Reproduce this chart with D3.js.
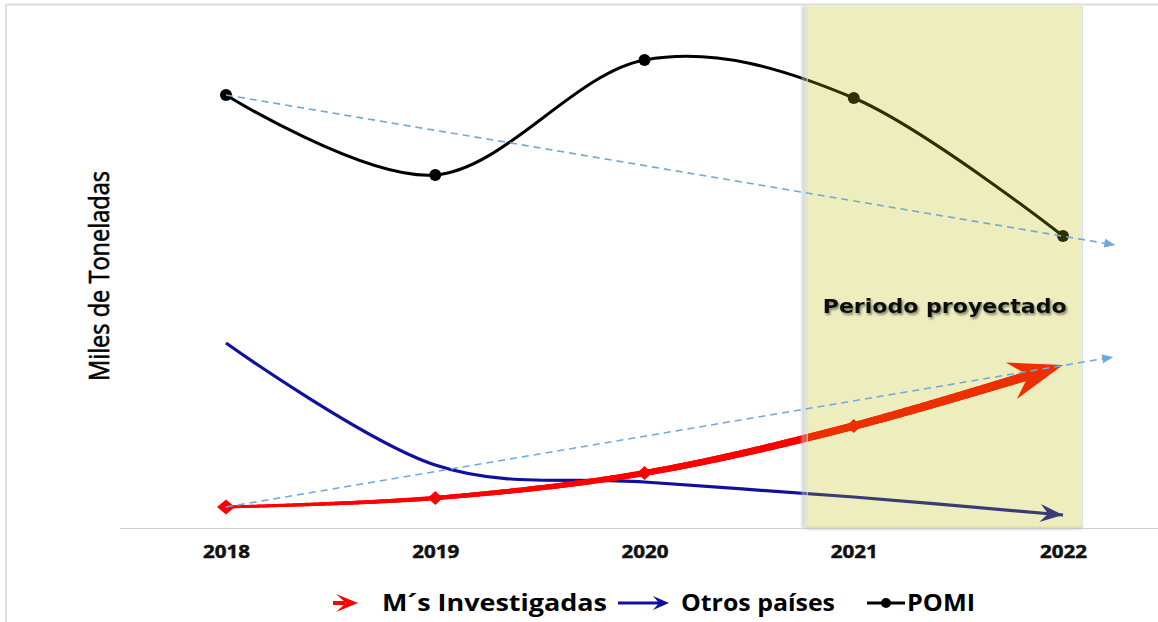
<!DOCTYPE html>
<html><head><meta charset="utf-8">
<script src="https://cdn.jsdelivr.net/npm/d3@7"></script>
<style>body{margin:0;background:#fff}svg{display:block}</style>
</head><body><svg id="c" width="1158" height="622"></svg>
<script>
// ---- data ----
const years = [2018, 2019, 2020, 2021, 2022];
const tickLabels = ["2018", "2019", "2020", "2021", "2022"];
const mInvestigadas = [4.2, 6.0, 11.0, 20.4, 32.6];
const otrosPaises = [37.0, 12.6, 9.2, 6.2, 2.6];
const pomi = [86.6, 70.6, 93.6, 86.0, 58.4];
const trendPomiYears = [2018, 2022.25];
const trendPomiValues = [86.6, 56.6];
const trendMsYears = [2018, 2022.24];
const trendMsValues = [4.2, 34.2];
const projectedPeriod = [2020.77, 2022.09];
const seriesNames = ["M´s Investigadas", "Otros países", "POMI"];
const yLabel = "Miles de Toneladas";
const shadeLabel = "Periodo proyectado";

// ---- setup ----
const svg = d3.select("#c");
const x = d3.scaleLinear().domain([2018, 2022]).range([226, 1063]);
const y = d3.scaleLinear().domain([0, 100]).range([528, 28]);
const curve = d3.curveCardinal.tension(0);
const line = d3.line().x(d => x(d[0])).y(d => y(d[1])).curve(curve);
const zip = (a, b) => a.map((v, i) => [v, b[i]]);

const defs = svg.append("defs");
const f = defs.append("filter").attr("id", "ts").attr("x", "-10%").attr("y", "-40%").attr("width", "120%").attr("height", "180%");
f.append("feDropShadow").attr("dx", 1.5).attr("dy", 2).attr("stdDeviation", 1.3).attr("flood-color", "#000").attr("flood-opacity", 0.45);
const bl = defs.append("filter").attr("id", "bl").attr("x", "-200%").attr("width", "500%");
bl.append("feGaussianBlur").attr("stdDeviation", 1.2);

// frame
svg.append("line").attr("x1", 6).attr("x2", 1158).attr("y1", 4.5).attr("y2", 4.5).attr("stroke", "#dcdcdc").attr("stroke-width", 2);
svg.append("line").attr("x1", 6).attr("x2", 6).attr("y1", 4).attr("y2", 622).attr("stroke", "#e0e0e0").attr("stroke-width", 2);

// axis
const axis = d3.axisBottom(x).tickValues(years).tickFormat((d, i) => tickLabels[i]).tickSize(0).tickPadding(17);
const ag = svg.append("g").attr("transform", `translate(0,${y(0)})`).call(axis);
ag.select(".domain").remove();
ag.selectAll("text").attr("font-family", "'Open Sans', sans-serif").attr("font-weight", 700).attr("font-size", 18)
  .attr("fill", "#111").attr("stroke", "#111").attr("stroke-width", 0.5)
  .attr("textLength", 47).attr("lengthAdjust", "spacingAndGlyphs");
svg.append("line").attr("x1", 120).attr("x2", 1158).attr("y1", y(0) + 0.5).attr("y2", y(0) + 0.5).attr("stroke", "#d0d0d0").attr("stroke-width", 1.2);

// y label
svg.append("text").attr("transform", "translate(109,276) rotate(-90)").attr("text-anchor", "middle")
  .attr("font-family", "'Liberation Sans Narrow', 'Open Sans', sans-serif").attr("font-size", 27).attr("fill", "#000")
  .attr("stroke", "#000").attr("stroke-width", 0.6)
  .attr("textLength", 210).attr("lengthAdjust", "spacingAndGlyphs").text(yLabel);

function arrowHead(g, tip, ang, len, half, notch, fill) {
  const p = d3.path();
  p.moveTo(0, 0); p.lineTo(-len, -half); p.lineTo(-notch, 0); p.lineTo(-len, half); p.closePath();
  g.append("path").attr("d", p.toString()).attr("fill", fill)
    .attr("transform", `translate(${tip[0]},${tip[1]}) rotate(${ang * 180 / Math.PI})`);
}

// POMI
const pomiPts = zip(years, pomi);
svg.append("path").attr("d", line(pomiPts)).attr("fill", "none").attr("stroke", "#000").attr("stroke-width", 3);
svg.selectAll(".pm").data(pomiPts).join("circle").attr("cx", d => x(d[0])).attr("cy", d => y(d[1])).attr("r", 6).attr("fill", "#000");

// Otros paises
const otPts = zip(years, otrosPaises);
const otPath = svg.append("path").attr("d", line(otPts)).attr("fill", "none").attr("stroke", "#10109c").attr("stroke-width", 3.2);
{
  const n = otPath.node(), L = n.getTotalLength();
  const a = n.getPointAtLength(L - 14), b = n.getPointAtLength(L);
  arrowHead(svg, [b.x, b.y], Math.atan2(b.y - a.y, b.x - a.x), 23, 9, 15, "#10109c");
}

// M's investigadas (tapered red line)
const msPts = zip(years, mInvestigadas);
const hidden = svg.append("path").attr("d", line(msPts)).attr("fill", "none").attr("stroke", "none");
{
  const n = hidden.node(), L = n.getTotalLength();
  const stop = L - 30;
  const gRed = svg.append("g");
  let prev = n.getPointAtLength(0);
  for (let s = 2; s <= stop; s += 2) {
    const p = n.getPointAtLength(s);
    gRed.append("line").attr("x1", prev.x).attr("y1", prev.y).attr("x2", p.x).attr("y2", p.y)
      .attr("stroke", "#ff0000").attr("stroke-width", 2.8 + 6.5 * s / L).attr("stroke-linecap", "round");
    prev = p;
  }
  const a = n.getPointAtLength(L - 45), b = n.getPointAtLength(L);
  arrowHead(svg, [b.x, b.y], Math.atan2(b.y - a.y, b.x - a.x), 54, 19, 36, "#ff0000");
}
const dia = (w, h) => `M0,${-h / 2}L${w / 2},0L0,${h / 2}L${-w / 2},0Z`;
svg.selectAll(".md").data(msPts.slice(0, 4)).join("path").attr("d", (d, i) => i === 0 ? dia(18, 15) : dia(15, 14))
  .attr("transform", d => `translate(${x(d[0])},${y(d[1])})`).attr("fill", "#ff0000");

// projected period overlay
const sx0 = x(projectedPeriod[0]), sx1 = x(projectedPeriod[1]);
svg.append("rect").attr("x", sx0 - 4).attr("y", 6).attr("width", 4).attr("height", y(0) - 6).attr("fill", "#bbb").attr("opacity", 0.6).attr("filter", "url(#bl)");
svg.append("rect").attr("x", sx0).attr("y", y(0) - 1).attr("width", sx1 - sx0).attr("height", 3).attr("fill", "#bbb").attr("opacity", 0.5).attr("filter", "url(#bl)");
svg.append("rect").attr("x", sx0).attr("y", 6).attr("width", sx1 - sx0).attr("height", y(0) - 6)
  .attr("fill", "rgb(184,184,0)").attr("fill-opacity", 0.255);
svg.append("line").attr("x1", sx1 + 0.5).attr("x2", sx1 + 0.5).attr("y1", 6).attr("y2", y(0)).attr("stroke", "#c9dcf3").attr("stroke-width", 1);
svg.append("line").attr("x1", sx0 + 1.5).attr("x2", sx0 + 1.5).attr("y1", 6).attr("y2", y(0)).attr("stroke", "#d6e3f3").attr("stroke-width", 1);

// trend lines
function trend(ys, vs) {
  const pts = zip(ys, vs);
  const p0 = [x(pts[0][0]), y(pts[0][1])], p1 = [x(pts[1][0]), y(pts[1][1])];
  const ang = Math.atan2(p1[1] - p0[1], p1[0] - p0[0]);
  const e = [p1[0] - 8 * Math.cos(ang), p1[1] - 8 * Math.sin(ang)];
  svg.append("line").attr("x1", p0[0]).attr("y1", p0[1]).attr("x2", e[0]).attr("y2", e[1])
    .attr("stroke", "#6fa8dc").attr("stroke-width", 1.6).attr("stroke-dasharray", "7,5");
  arrowHead(svg, p1, ang, 11, 4.5, 11, "#6fa8dc");
}
trend(trendPomiYears, trendPomiValues);
trend(trendMsYears, trendMsValues);

// shade label
svg.append("text").attr("x", (sx0 + sx1) / 2 + 1).attr("y", 313).attr("text-anchor", "middle")
  .attr("font-family", "'DejaVu Sans', sans-serif").attr("font-weight", 700).attr("font-size", 19)
  .attr("textLength", 244).attr("lengthAdjust", "spacingAndGlyphs")
  .attr("fill", "#111").attr("filter", "url(#ts)").text(shadeLabel);

// legend
const lg = svg.append("g");
const ly = 603;
lg.append("line").attr("x1", 333).attr("x2", 345).attr("y1", ly).attr("y2", ly).attr("stroke", "#ff0000").attr("stroke-width", 4);
arrowHead(lg, [358, ly], 0, 22, 9, 12, "#ff0000");
lg.append("line").attr("x1", 618).attr("x2", 660).attr("y1", ly).attr("y2", ly).attr("stroke", "#10109c").attr("stroke-width", 3);
arrowHead(lg, [669, ly], 0, 16, 7, 10, "#10109c");
lg.append("line").attr("x1", 867).attr("x2", 905).attr("y1", ly).attr("y2", ly).attr("stroke", "#000").attr("stroke-width", 3);
lg.append("circle").attr("cx", 886).attr("cy", ly).attr("r", 5).attr("fill", "#000");
const legendX = [382, 681, 907], legendW = [225, 154, 68];
seriesNames.forEach((name, i) => {
  lg.append("text").attr("x", legendX[i]).attr("y", 611).attr("textLength", legendW[i]).attr("lengthAdjust", "spacingAndGlyphs")
    .attr("font-family", "'Open Sans', sans-serif").attr("font-weight", 700).attr("font-size", 23).attr("fill", "#000").text(name);
});
</script></body></html>
